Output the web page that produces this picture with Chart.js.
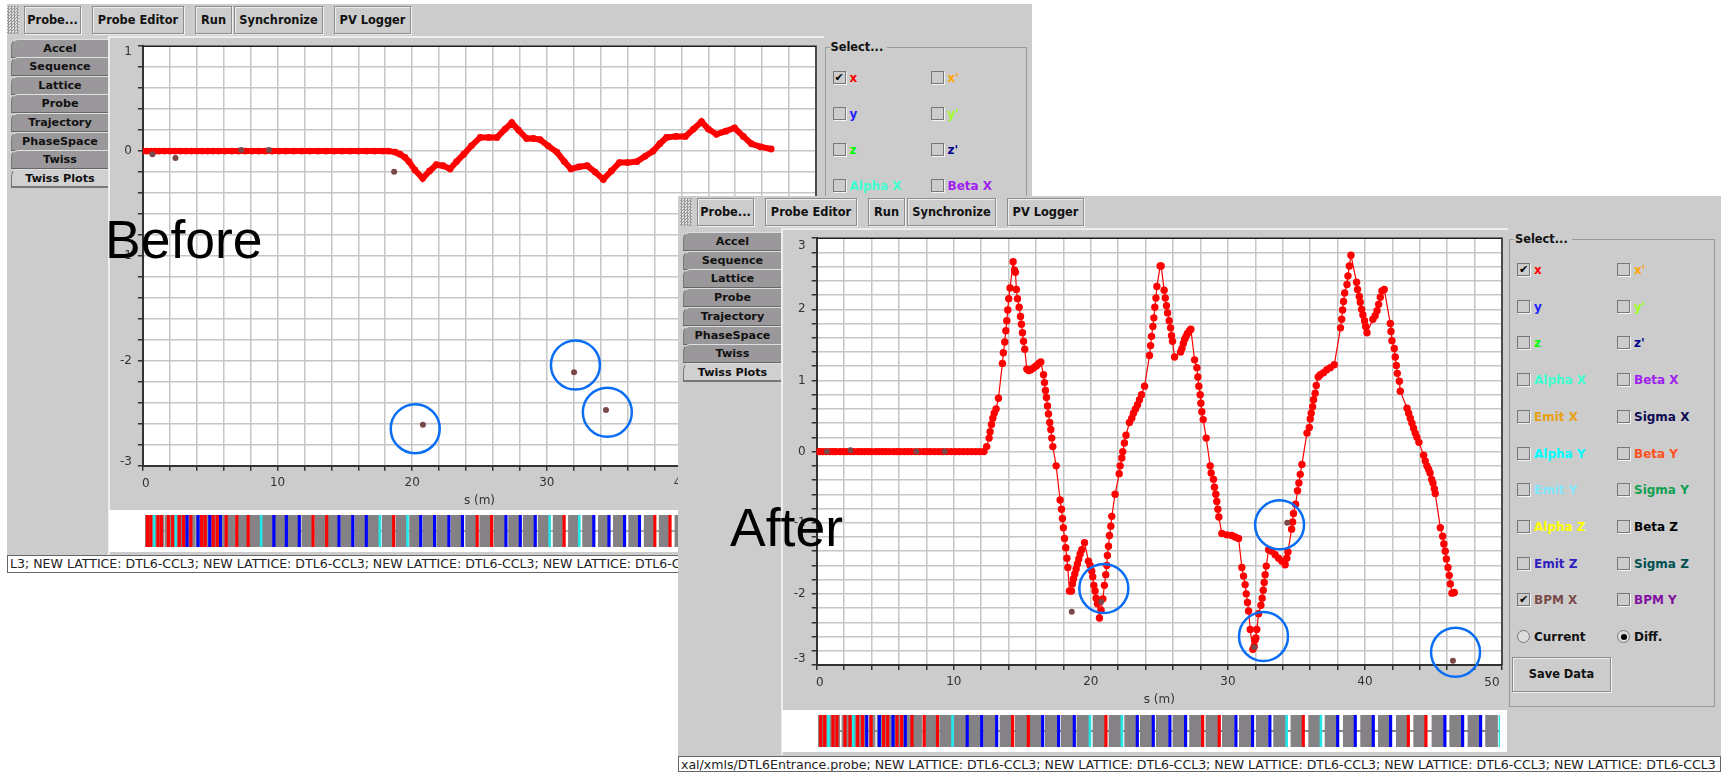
<!DOCTYPE html>
<html>
<head>
<meta charset="utf-8">
<title>Orbit correction before and after</title>
<script src="https://cdn.jsdelivr.net/npm/chart.js@4"></script>
<style>
  html, body { margin: 0; padding: 0; background: #fff; }
  body { width: 1721px; height: 772px; position: relative; overflow: hidden; font-family: "DejaVu Sans", sans-serif; }
  .abs { position: absolute; box-sizing: border-box; }
  .win { background: #ccc; }
  .grip { background-color: #ddd; background-image: conic-gradient(#999 25%, transparent 0 50%, #999 0 75%, transparent 0); background-size: 3px 3px; }
  .btn { background: #ccc; border: 1px solid #8c8c8c; box-shadow: 1px 1px 0 #f2f2f2, inset 1px 1px 0 #eee; font-size: 11.4px; font-weight: bold; color: #111; display: flex; align-items: center; justify-content: center; white-space: nowrap; }
  .tab { background: #9a989a; border-top: 1px solid #e0e0e0; border-left: 1px solid #777; border-bottom: 1px solid #666; border-top-left-radius: 7px; font-size: 11.2px; font-weight: bold; color: #111; text-align: center; line-height: 17px; white-space: nowrap; }
  .tab.on { background: #d0d0d0; border-bottom: 2px solid #777; }
  .hl { border-top: 2px solid #eee; border-left: 2px solid #eee; }
  .group { border: 1px solid #9a9a9a; }
  .grouptitle { background: #ccc; font-size: 11.4px; font-weight: bold; color: #111; padding: 0 4px 0 1px; line-height: 14px; }
  .box { width: 13px; height: 13px; border: 1px solid #777; box-shadow: 1px 1px 0 #f4f4f4; background: #ccc; font-size: 11px; line-height: 11px; text-align: center; color: #000; }
  .radio { width: 13px; height: 13px; border: 1px solid #777; border-radius: 50%; background: #ddd; }
  .radio.on::after { content: ""; position: absolute; left: 2.5px; top: 2.5px; width: 6px; height: 6px; border-radius: 50%; background: #000; }
  .opt { font-size: 12px; font-weight: bold; line-height: 14px; white-space: nowrap; }
  .status { background: #fff; border: 1px solid #666; font-size: 12.55px; color: #222; line-height: 15px; padding-left: 2px; overflow: hidden; white-space: nowrap; }
  .white { background: #fff; }
  .big { font-family: "Liberation Sans", sans-serif; font-size: 53.5px; line-height: 53px; color: #000; white-space: nowrap; }
  canvas { position: absolute; }
</style>
</head>
<body>
<script>
// tick labels, menus
const toolbarButtons = [['Probe...', 19, 57], ['Probe Editor', 87, 92], ['Run', 190, 37], ['Synchronize', 229, 89], ['PV Logger', 329, 77]];
const tabNames = ['Accel', 'Sequence', 'Lattice', 'Probe', 'Trajectory', 'PhaseSpace', 'Twiss', 'Twiss Plots'];
const optionRows = [
  ['x', '#ff0000', "x'", '#ffa500'],
  ['y', '#2020ff', "y'", '#a0ff20'],
  ['z', '#00ff00', "z'", '#000090'],
  ['Alpha X', '#40ffd0', 'Beta X', '#a020f0'],
  ['Emit X', '#e8a010', 'Sigma X', '#0a0a50'],
  ['Alpha Y', '#00ffff', 'Beta Y', '#ff5020'],
  ['Emit Y', '#80e8ff', 'Sigma Y', '#10a050'],
  ['Alpha Z', '#ffff00', 'Beta Z', '#000000'],
  ['Emit Z', '#3020c0', 'Sigma Z', '#005050'],
  ['BPM X', '#7a4a4a', 'BPM Y', '#8010a0']
];

// before: model orbit x (mm) along s (m)
const beforeFlatS = [0, 0.3, 0.6, 0.9, 1.2, 1.6, 2.0, 2.4, 2.8, 3.2, 3.6, 4.0, 4.4, 4.8, 5.2, 5.6, 6.1, 6.6, 7.1, 7.6, 8.1, 8.6, 9.1, 9.6, 10.1, 10.6, 11.2, 11.8, 12.4, 13.0, 13.6, 14.2, 14.8, 15.4, 16.0, 16.6, 17.2, 17.8, 18.2];
const beforeOrbit = [[18.74, -0.01], [19.1, -0.03], [19.47, -0.06], [19.76, -0.1], [20.2, -0.18], [20.78, -0.26], [21.3, -0.19], [21.8, -0.13], [22.3, -0.14], [22.82, -0.17], [23.3, -0.1], [23.84, -0.03], [24.4, 0.05], [25.06, 0.13], [25.7, 0.13], [26.3, 0.13], [26.9, 0.21], [27.4, 0.27], [27.9, 0.2], [28.5, 0.12], [29.0, 0.12], [29.5, 0.11], [30.1, 0.05], [30.75, -0.01], [31.3, -0.1], [31.8, -0.17], [32.4, -0.15], [33.0, -0.14], [33.6, -0.2], [34.2, -0.27], [34.8, -0.19], [35.4, -0.11], [36.0, -0.11], [36.7, -0.1], [37.3, -0.05], [37.9, 0], [38.4, 0.07], [38.9, 0.13], [39.6, 0.14], [40.3, 0.14], [40.9, 0.21], [41.5, 0.28], [42.0, 0.21], [42.6, 0.16], [43.3, 0.19], [43.95, 0.22], [44.6, 0.14], [45.2, 0.07], [45.9, 0.04], [46.67, 0.02]];
const beforeBpm = [[0.71, -0.03], [2.42, -0.066], [7.3, 0.01], [9.36, 0.01], [18.66, -0.196], [20.8, -2.61], [32.03, -2.11], [34.4, -2.47]];
const beforeRings = [[20.23, -2.647], [32.13, -2.04], [34.5, -2.49]];

// after: model orbit x (mm) along s (m)
const afterFlatS = [0, 0.2, 0.45, 0.7, 0.95, 1.2, 1.4, 1.7, 1.95, 2.2, 2.45, 2.7, 3.0, 3.25, 3.5, 3.75, 4.0, 4.3, 4.55, 4.8, 5.05, 5.3, 5.6, 5.85, 6.1, 6.4, 6.65, 6.9, 7.2, 7.5, 7.8, 8.05, 8.3, 8.6, 8.9, 9.2, 9.5, 9.8, 10.1, 10.4, 10.7, 11.0, 11.3, 11.6, 11.9, 12.2];
const afterOrbit = [
  [12.4, 0.07], [12.58, 0.19], [12.65, 0.28], [12.75, 0.38], [12.85, 0.47], [12.95, 0.54], [13.09, 0.6], [13.26, 0.75],
  [13.55, 1.24], [13.62, 1.39], [13.72, 1.54], [13.8, 1.7], [13.87, 1.84], [13.94, 1.99], [14.01, 2.15], [14.11, 2.3], [14.33, 2.67],
  [14.43, 2.55], [14.5, 2.52], [14.57, 2.28], [14.65, 2.15], [14.77, 2.03], [14.87, 1.9], [14.94, 1.79], [15.01, 1.67], [15.09, 1.55], [15.18, 1.44],
  [15.33, 1.16], [15.47, 1.14], [15.62, 1.15], [15.77, 1.17], [15.91, 1.19], [16.06, 1.21], [16.2, 1.24], [16.35, 1.26],
  [16.55, 1.08], [16.62, 0.97], [16.69, 0.86], [16.76, 0.76], [16.84, 0.64], [16.91, 0.53], [17.0, 0.41], [17.08, 0.31], [17.15, 0.19], [17.23, 0.07],
  [17.47, -0.2], [17.76, -0.68], [17.86, -0.81], [17.93, -0.94], [18.0, -1.07], [18.08, -1.22], [18.17, -1.35], [18.25, -1.5], [18.32, -1.63],
  [18.44, -1.96], [18.59, -1.96], [18.66, -1.86], [18.73, -1.79], [18.83, -1.72], [18.93, -1.65], [19.02, -1.58], [19.12, -1.51], [19.22, -1.44], [19.34, -1.38], [19.54, -1.28],
  [19.83, -1.54], [19.95, -1.6], [20.07, -1.68], [20.14, -1.76], [20.22, -1.88], [20.31, -1.96], [20.39, -2.06], [20.48, -2.14], [20.63, -2.34],
  [20.75, -2.23], [20.88, -2.07], [20.99, -1.88], [21.09, -1.73], [21.17, -1.6], [21.21, -1.46], [21.29, -1.33], [21.36, -1.18], [21.46, -1.05], [21.53, -0.91],
  [21.77, -0.6], [22.07, -0.31], [22.14, -0.2], [22.26, -0.09], [22.33, 0], [22.45, 0.12], [22.57, 0.23], [22.82, 0.41], [22.99, 0.47], [23.11, 0.54], [23.26, 0.6], [23.41, 0.66], [23.55, 0.73], [23.7, 0.8], [23.92, 0.92],
  [24.28, 1.35], [24.36, 1.49], [24.43, 1.62], [24.53, 1.76], [24.6, 1.88], [24.67, 2.03], [24.75, 2.16], [24.82, 2.32], [25.06, 2.61], [25.13, 2.61],
  [25.35, 2.27], [25.43, 2.16], [25.52, 2.05], [25.6, 1.95], [25.72, 1.84], [25.82, 1.74], [25.89, 1.63], [25.96, 1.55], [26.11, 1.33],
  [26.55, 1.4], [26.65, 1.45], [26.75, 1.52], [26.85, 1.58], [26.95, 1.62], [27.05, 1.66], [27.2, 1.7], [27.3, 1.72],
  [27.57, 1.29], [27.74, 1.18], [27.81, 1.05], [27.88, 0.92], [27.98, 0.8], [28.03, 0.68], [28.1, 0.56], [28.2, 0.45], [28.42, 0.19],
  [28.71, -0.2], [28.78, -0.3], [28.95, -0.39], [29.02, -0.5], [29.12, -0.6], [29.19, -0.7], [29.27, -0.81], [29.34, -0.92],
  [29.56, -1.15], [29.92, -1.17], [30.29, -1.18], [30.53, -1.2], [30.78, -1.22],
  [31.02, -1.63], [31.14, -1.75], [31.26, -1.87], [31.34, -2.0], [31.43, -2.12], [31.51, -2.24], [31.63, -2.5], [31.82, -2.78],
  [31.92, -2.74], [31.99, -2.65], [32.04, -2.62], [32.11, -2.5], [32.24, -2.28], [32.41, -2.16], [32.5, -2.06], [32.58, -1.95], [32.65, -1.84], [32.72, -1.73], [32.8, -1.61],
  [32.97, -1.38], [33.21, -1.4], [33.45, -1.45], [33.7, -1.5], [33.94, -1.54], [34.18, -1.59], [34.3, -1.5], [34.38, -1.41],
  [34.65, -1.09], [34.72, -0.99], [34.79, -0.87], [34.94, -0.74], [35.08, -0.55], [35.18, -0.44], [35.28, -0.32], [35.4, -0.18],
  [35.77, 0.26], [35.94, 0.34], [36.01, 0.46], [36.08, 0.54], [36.18, 0.63], [36.25, 0.73], [36.37, 0.82], [36.45, 0.93], [36.59, 1.05],
  [36.74, 1.08], [36.98, 1.11], [37.22, 1.15], [37.47, 1.18], [37.76, 1.22],
  [38.22, 1.74], [38.3, 1.86], [38.37, 1.99], [38.44, 2.11], [38.52, 2.23], [38.69, 2.35], [38.76, 2.47], [38.86, 2.61], [38.98, 2.76],
  [39.39, 2.38], [39.46, 2.28], [39.59, 2.18], [39.66, 2.1], [39.76, 2.0], [39.85, 1.92], [39.97, 1.84], [40.05, 1.76], [40.15, 1.67],
  [40.58, 1.86], [40.75, 1.91], [40.88, 1.98], [41.0, 2.07], [41.12, 2.17], [41.24, 2.26], [41.41, 2.28],
  [41.85, 1.8], [41.9, 1.69], [41.97, 1.56], [42.14, 1.45], [42.21, 1.33], [42.29, 1.21], [42.36, 1.1], [42.51, 0.99], [42.58, 0.85],
  [43.07, 0.61], [43.19, 0.54], [43.31, 0.47], [43.43, 0.4], [43.55, 0.33], [43.67, 0.26], [43.79, 0.2], [43.94, 0.13],
  [44.28, -0.05], [44.4, -0.13], [44.52, -0.2], [44.65, -0.25], [44.75, -0.3], [44.87, -0.39], [44.96, -0.44], [45.06, -0.52], [45.13, -0.59],
  [45.5, -1.07], [45.67, -1.19], [45.76, -1.3], [45.86, -1.4], [45.94, -1.51], [46.06, -1.63], [46.15, -1.74], [46.23, -1.86], [46.35, -1.99], [46.52, -1.98]
];
const afterBpm = [[0.75, 0], [2.46, 0.02], [7.27, 0], [9.34, 0], [18.61, -2.25], [20.75, -2.11], [31.92, -2.75], [34.33, -1.0], [46.42, -2.94]];
const afterRings = [[20.95, -1.925], [33.77, -1.03], [32.6, -2.6], [46.61, -2.82]];

// accelerator lattice strip, positions along the strip
const latticeGrayEarly = [0.15, 0.44, 1.08, 1.37, 1.98, 2.3, 2.59, 2.96, 3.25, 3.96, 4.55, 4.84, 5.13, 5.57, 5.87, 6.21, 6.5];
const latticeGray = [7.19, 8.36, 9.36, 10.4, 11.47, 12.58, 13.78, 14.9, 15.93, 17.1, 18.28, 19.42, 20.6, 21.77, 22.92, 24.07, 25.24, 26.46, 27.68, 28.88, 30.08, 31.33, 32.57, 33.84, 35.11, 36.41, 37.61, 38.95, 40.22, 41.52, 42.84, 44.11, 45.45, 46.75, 48.09, 49.38];
const latticeRed = [0.2, 0.49, 1.1, 1.39, 1.98, 2.35, 2.91, 3.27, 3.89, 4.81, 5.11, 5.79, 6.13, 6.89, 7.79, 8.76, 14.27, 15.42, 21.11, 28.2, 29.42, 35.58, 43.28, 44.57];
const latticeBlue = [3.57, 4.5, 5.5, 6.4, 10.94, 12.0, 13.1, 16.47, 17.64, 18.79, 23.41, 24.58, 25.8, 26.95, 30.64, 31.86, 33.13, 38.1, 39.39, 40.71, 41.98, 45.96, 47.26, 48.58];
const latticeCyan = [0.76, 2.59, 9.86, 19.94, 22.28, 34.36, 36.87, 50];

const statusBefore = 'L3; NEW LATTICE: DTL6-CCL3; NEW LATTICE: DTL6-CCL3; NEW LATTICE: DTL6-CCL3; NEW LATTICE: DTL6-CCL3; NEW LATTICE: DTL6-CCL3; NEW LATTICE: DTL6-CCL3';
const statusAfter = 'xal/xmls/DTL6Entrance.probe; NEW LATTICE: DTL6-CCL3; NEW LATTICE: DTL6-CCL3; NEW LATTICE: DTL6-CCL3; NEW LATTICE: DTL6-CCL3; NEW LATTICE: DTL6-CCL3';

Chart.defaults.font.family = '"DejaVu Sans", sans-serif';
Chart.defaults.font.size = 12;
Chart.defaults.color = '#333';

function el(cls, left, top, width, height, text) {
  const d = document.createElement('div');
  d.className = 'abs ' + cls;
  d.style.left = left + 'px';
  d.style.top = top + 'px';
  if (width != null) d.style.width = width + 'px';
  if (height != null) d.style.height = height + 'px';
  if (text != null) d.textContent = text;
  document.body.appendChild(d);
  return d;
}

const toPoints = (pairs) => pairs.map(([x, y]) => ({ x, y }));

// white plot background and the dark top/right frame lines
const framePlugin = {
  id: 'frame',
  beforeDraw(chart) {
    const a = chart.chartArea;
    chart.ctx.fillStyle = '#fff';
    chart.ctx.fillRect(a.left, a.top, a.width, a.height);
  },
  afterDraw(chart) {
    const a = chart.chartArea;
    const ctx = chart.ctx;
    ctx.save();
    ctx.strokeStyle = '#222';
    ctx.lineWidth = 1.5;
    ctx.beginPath();
    ctx.moveTo(a.left, a.top);
    ctx.lineTo(a.right, a.top);
    ctx.lineTo(a.right, a.bottom);
    ctx.stroke();
    ctx.restore();
    // the end labels of each axis sit inside the axis range in the original plot
    const { x, y } = chart.scales;
    const o = chart.options.endLabels;
    ctx.save();
    ctx.fillStyle = '#333';
    ctx.font = '12px "DejaVu Sans"';
    ctx.textBaseline = 'middle';
    ctx.textAlign = 'center';
    ctx.fillText('0', x.getPixelForValue(0) + 3, a.bottom + 18);
    ctx.fillText('50', x.getPixelForValue(50) - 10, a.bottom + 18);
    ctx.textAlign = 'right';
    ctx.fillText(String(y.max), a.left - 11, y.getPixelForValue(y.max) + o.topShift);
    ctx.fillText(String(y.min), a.left - 11, y.getPixelForValue(y.min) - o.bottomShift);
    ctx.restore();
  }
};

function orbitChart(o) {
  const axisW = o.plotLeft - o.panelLeft;
  const canvasTop = Math.floor(o.plotTop - 10);
  const padTop = o.plotTop - canvasTop;
  const canvasH = Math.ceil(padTop + o.plotH + 44);
  const c = document.createElement('canvas');
  c.width = Math.ceil(axisW + o.plotW + 12);
  c.height = canvasH;
  c.style.left = o.panelLeft + 'px';
  c.style.top = canvasTop + 'px';
  document.body.appendChild(c);
  const grid = { color: '#c6c6c6', lineWidth: 1.5, tickColor: '#333', tickLength: 5 };
  const xLabel = (v) => (v % 10 === 0 && v !== 0 && v !== 50 ? String(v) : '');
  const yLabel = (v) => {
    const n = Math.round(v);
    if (Math.abs(v - n) > 1e-6 || n === o.yMax || n === o.yMin) return '';
    return String(n);
  };
  new Chart(c, {
    type: 'scatter',
    data: {
      datasets: [
        { data: toPoints(o.rings), pointRadius: 24.5, pointBorderWidth: 2.5, pointBorderColor: '#0a6ef5', pointBackgroundColor: 'transparent', showLine: false, clip: false },
        { data: toPoints(o.bpm), pointRadius: 3, pointBackgroundColor: '#7a4848', pointBorderWidth: 0, showLine: false },
        { data: o.flatS.map((x) => ({ x, y: 0 })).concat(toPoints(o.orbit)), showLine: true, borderColor: '#ff0000', borderWidth: o.lineW, pointRadius: o.pointR, pointBackgroundColor: '#ff0000', pointBorderWidth: 0 }
      ]
    },
    options: {
      responsive: false,
      animation: false,
      endLabels: { topShift: o.topShift, bottomShift: o.bottomShift },
      layout: { autoPadding: false, padding: { left: 0, top: padTop, right: 12, bottom: canvasH - padTop - o.plotH - 44 } },
      plugins: { legend: { display: false }, tooltip: { enabled: false } },
      scales: {
        x: {
          type: 'linear', min: 0, max: 50,
          grid,
          border: { color: '#333', width: 2 },
          ticks: { stepSize: 2, autoSkip: false, maxRotation: 0, padding: 5, callback: xLabel },
          title: { display: true, text: 's (m)', color: '#333', padding: { top: 0, bottom: 2 } },
          afterFit(s) { s.height = 44; }
        },
        y: {
          type: 'linear', min: o.yMin, max: o.yMax,
          grid,
          border: { color: '#333', width: 2 },
          ticks: { stepSize: 0.2, autoSkip: false, padding: 6, callback: yLabel },
          afterFit(s) { s.width = axisW; }
        }
      }
    },
    plugins: [framePlugin]
  });
}

function latticeChart(o) {
  const c = document.createElement('canvas');
  c.width = o.width;
  c.height = o.height;
  c.style.left = o.left + 'px';
  c.style.top = o.top + 'px';
  document.body.appendChild(c);
  const bars = (list, color, thick) => ({ data: list.map((x) => ({ x, y: [0, 1] })), backgroundColor: color, barThickness: thick, grouped: false });
  new Chart(c, {
    type: 'bar',
    data: {
      datasets: [
        bars(latticeRed, '#ff0000', 2.5),
        bars(latticeBlue, '#0000ff', 2.5),
        bars(latticeCyan, '#20e8e8', 2),
        bars(latticeGrayEarly, '#8a8789', 6),
        bars(latticeGray, '#858285', o.grayW),
        { type: 'line', data: [{ x: -0.3, y: 0.5 }, { x: 50, y: 0.5 }], borderColor: o.beam, borderWidth: 1, pointRadius: 0 }
      ]
    },
    options: {
      responsive: false,
      animation: false,
      layout: { autoPadding: false, padding: { left: o.padLeft, right: o.padRight, top: 5, bottom: 5 } },
      plugins: { legend: { display: false }, tooltip: { enabled: false } },
      scales: {
        x: { type: 'linear', min: 0, max: 50, offset: false, display: false },
        y: { min: 0, max: 1, display: false }
      }
    }
  });
}

function buildWindow(o) {
  el('win', o.left, o.top, o.width, o.height);
  const tx = o.toolbarLeft;
  const ty = o.top;
  el('grip', tx + 2, ty + 2, 12, 28);
  toolbarButtons.forEach(([name, x, w]) => el('btn', tx + x, ty + 2, w, 28, name));
  el('hl', o.panelLeft, ty + 32, o.panelW, o.panelH);
  tabNames.forEach((name, i) => {
    el('tab' + (i === tabNames.length - 1 ? ' on' : ''), o.tabLeft, ty + o.tabTop + i * o.tabH, o.panelLeft - o.tabLeft, 19, name);
  });
  // Select... group
  const gl = o.groupLeft;
  const gt = ty + 43;
  el('group', gl, gt, o.groupW, 468);
  el('grouptitle', gl + 5, gt - 7, null, 14, 'Select...');
  optionRows.forEach((row, i) => {
    const cy = gt + 31 + i * o.rowH;
    [0, 1].forEach((col) => {
      const x = gl + o.colX[col];
      const box = el('box', x, cy - 7, null, null, (i === 0 || i === 9) && col === 0 ? '✔' : '');
      box.style.background = '#ccc';
      const label = el('opt', x + 17, cy - 7, null, null, row[col * 2]);
      label.style.color = row[col * 2 + 1];
    });
  });
  const ry = gt + 31 + 10 * o.rowH;
  el('radio', gl + o.colX[0], ry - 7);
  el('opt', gl + o.colX[0] + 17, ry - 7, null, null, 'Current').style.color = '#111';
  el('radio on', gl + o.colX[1], ry - 7);
  el('opt', gl + o.colX[1] + 17, ry - 7, null, null, 'Diff.').style.color = '#111';
  el('btn', gl + 3, ty + 460.7, 99, 35, 'Save Data');

  orbitChart(o.chart);
  el('white', o.panelLeft + 1, o.stripTop, o.stripW, 42);
  latticeChart(Object.assign({ left: o.panelLeft + 1, top: o.stripTop, width: o.stripW, height: 42 }, o.lattice));
  el('status', o.left, o.statusTop, o.width, o.statusH, o.status);
}

buildWindow({
  left: 7, top: 4, width: 1025, height: 569, toolbarLeft: 5, tabLeft: 11, tabTop: 34.5, tabH: 18.6, rowH: 36, panelLeft: 108, panelW: 716, panelH: 520,
  groupLeft: 824.5, groupW: 202, colX: [8, 106],
  stripTop: 510, stripW: 710, statusTop: 555, statusH: 18, status: statusBefore,
  lattice: { padLeft: 36, padRight: 85, grayW: 11, beam: '#555' },
  chart: { panelLeft: 108, plotLeft: 142.9, plotTop: 43.7, plotW: 673, plotH: 422, yMin: -3, yMax: 1, topShift: 6, bottomShift: 4, flatS: beforeFlatS, orbit: beforeOrbit, bpm: beforeBpm, rings: beforeRings, lineW: 6, pointR: 3.4 }
});
el('big', 105, 213, null, null, 'Before');

buildWindow({
  left: 678, top: 196, width: 1043, height: 576, toolbarLeft: 678, tabLeft: 683, tabTop: 36, tabH: 18.7, rowH: 36.7, panelLeft: 781, panelW: 727, panelH: 527,
  groupLeft: 1509, groupW: 206, colX: [8, 108],
  stripTop: 710, stripW: 725, statusTop: 756, statusH: 16, status: statusAfter,
  lattice: { padLeft: 36, padRight: 7, grayW: 12, beam: '#111' },
  chart: { panelLeft: 781, plotLeft: 816.7, plotTop: 235, plotW: 685, plotH: 430, yMin: -3, yMax: 3, topShift: 8, bottomShift: 6, flatS: afterFlatS, orbit: afterOrbit, bpm: afterBpm, rings: afterRings, lineW: 1.2, pointR: 3.7 }
});
el('big', 730, 501, null, null, 'After');
</script>
</body>
</html>
